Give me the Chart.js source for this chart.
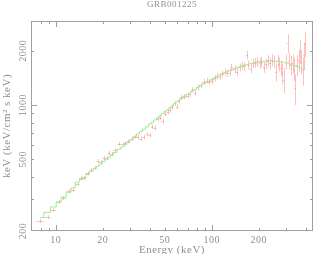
<!DOCTYPE html>
<html>
<head>
<meta charset="utf-8">
<script src="https://cdn.jsdelivr.net/npm/chart.js@4/dist/chart.umd.min.js"></script>
<style>
  html, body { margin: 0; padding: 0; background: #fff; }
  canvas { display: block; }
</style>
</head>
<body>
<canvas id="spec" width="314" height="254"></canvas>
<script>
// bin centres (keV)
const energy = [7.94, 8.89, 9.66, 10.5, 11.2, 12.2, 12.9, 13.8, 14.5, 15.2,
  16.1, 16.9, 17.9, 18.6, 19.4, 20.4, 21.2, 22.1, 22.8, 24.0,
  25.5, 26.9, 27.9, 29.2, 30.7, 32.2, 33.7, 35.2, 36.8, 38.5,
  40.3, 41.6, 43.3, 45.1, 46.6, 48.4, 50.4, 52.2, 54.0, 55.9,
  57.9, 59.9, 61.7, 63.8, 66.7, 69.9, 72.3, 75.1, 78.1, 81.2,
  84.7, 88.7, 92.8, 96.2, 100.6, 105.6, 108.6, 113, 116.6, 121.9,
  126, 130.6, 133.6, 139.9, 144.8, 150.8, 156, 162, 168.4, 171.7,
  177.8, 183, 189.5, 196, 204, 208, 216.5, 222, 229, 237,
  243, 251, 256, 264, 268, 276, 283, 291, 298, 306,
  313, 321, 329, 335, 342, 352, 360, 368, 375, 382,
  389, 397];

// measured nuFnu
const flux = [227, 239, 262, 290, 305, 334, 338, 365, 393, 392,
  417, 435, 448, 490, 483, 509, 509, 542, 536, 561,
  608, 608, 615, 629, 648, 668, 664, 650, 666, 688,
  680, 759, 746, 836, 851, 812, 895, 914, 934, 975,
  1026, 982, 1052, 1103, 1116, 1127, 1146, 1216, 1170, 1253,
  1285, 1352, 1369, 1347, 1360, 1411, 1447, 1440, 1491, 1530,
  1500, 1515, 1624, 1583, 1535, 1620, 1658, 1640, 1900, 1670,
  1590, 1708, 1720, 1745, 1708, 1745, 1624, 1690, 1765, 1708,
  1780, 1750, 1530, 1760, 1690, 1600, 1504, 1382, 1745, 2206,
  1765, 1670, 1708, 1590, 1242, 1670, 1780, 1990, 1745, 1560,
  1900, 2206];

const fluxErr = [6, 6, 7, 7, 8, 8, 8, 9, 10, 10,
  10, 11, 11, 12, 12, 13, 13, 14, 14, 14,
  15, 15, 16, 16, 17, 17, 17, 17, 18, 18,
  19, 21, 21, 23, 24, 24, 26, 27, 28, 29,
  31, 31, 33, 35, 36, 37, 38, 41, 40, 44,
  46, 50, 52, 52, 54, 58, 60, 62, 64, 68,
  68, 70, 76, 76, 78, 82, 86, 88, 100, 92,
  92, 100, 104, 108, 110, 114, 112, 118, 126, 126,
  134, 136, 180, 140, 150, 160, 200, 220, 170, 260,
  190, 200, 210, 230, 240, 220, 260, 300, 260, 280,
  320, 360];

// folded model
const model = [237, 254, 272, 290, 309, 328, 347, 373, 386, 397,
  417, 431, 446, 458, 471, 486, 500, 514, 526, 545,
  569, 587, 602, 621, 643, 668, 691, 713, 735, 758,
  786, 803, 827, 852, 873, 897, 922, 944, 968, 993,
  1020, 1043, 1064, 1089, 1117, 1146, 1169, 1196, 1222, 1247,
  1278, 1310, 1337, 1358, 1387, 1421, 1443, 1469, 1490, 1513,
  1534, 1554, 1567, 1591, 1610, 1631, 1648, 1665, 1680, 1687,
  1701, 1712, 1723, 1734, 1744, 1747, 1753, 1757, 1761, 1761,
  1761, 1759, 1757, 1755, 1751, 1742, 1735, 1728, 1718, 1708,
  1697, 1685, 1673, 1664, 1654, 1638, 1627, 1615, 1604, 1593,
  1581, 1568];

const xTickLabels = [10, 20, 50, 100, 200];
const yTickLabels = [200, 500, 1000, 2000];

const axisColor = '#a0a0a0';
const textColor = '#909090';
const font = '"Liberation Serif", serif';

const errorBars = {
  id: 'errorBars',
  beforeDatasetsDraw(chart) {
    const { ctx, chartArea: a, scales: { x, y } } = chart;
    ctx.save();
    ctx.beginPath();
    ctx.rect(a.left, a.top, a.right - a.left, a.bottom - a.top);
    ctx.clip();
    ctx.strokeStyle = 'rgba(255,130,130,0.5)';
    ctx.lineWidth = 1;
    const px = energy.map(e => x.getPixelForValue(e));
    for (let i = 0; i < energy.length; i++) {
      // bin edges halfway to neighbours
      const left = i > 0 ? (px[i] + px[i - 1]) / 2 : px[i] - (px[i + 1] - px[i]) / 2;
      const right = i < energy.length - 1 ? (px[i] + px[i + 1]) / 2 : px[i] + (px[i] - px[i - 1]) / 2;
      const cy = Math.round(y.getPixelForValue(flux[i])) + 0.5;
      const cx = Math.round(px[i]) + 0.5;
      ctx.beginPath();
      ctx.moveTo(left, cy);
      ctx.lineTo(right, cy);
      ctx.moveTo(cx, y.getPixelForValue(flux[i] - fluxErr[i]));
      ctx.lineTo(cx, y.getPixelForValue(flux[i] + fluxErr[i]));
      ctx.stroke();
    }
    ctx.restore();
  }
};

const frame = {
  id: 'frame',
  afterDraw(chart) {
    const { ctx, chartArea: a, scales: { x, y } } = chart;
    ctx.save();
    ctx.strokeStyle = axisColor;
    ctx.lineWidth = 1;
    ctx.strokeRect(a.left + 0.5, a.top + 0.5, a.right - a.left - 1, a.bottom - a.top - 1);

    ctx.beginPath();
    for (let d = 1; d <= 1000; d *= 10) {
      for (let k = 1; k <= 9; k++) {
        const v = k * d;
        if (v > x.min && v < x.max) {
          const p = Math.round(x.getPixelForValue(v)) + 0.5;
          const len = k === 1 ? 6 : 3;
          ctx.moveTo(p, a.bottom); ctx.lineTo(p, a.bottom - len);
          ctx.moveTo(p, a.top); ctx.lineTo(p, a.top + len);
        }
        if (v > y.min && v < y.max) {
          const p = Math.round(y.getPixelForValue(v)) + 0.5;
          const len = k === 1 ? 6 : 3;
          ctx.moveTo(a.left, p); ctx.lineTo(a.left + len, p);
          ctx.moveTo(a.right, p); ctx.lineTo(a.right - len, p);
        }
      }
    }
    ctx.stroke();

    ctx.fillStyle = textColor;
    ctx.letterSpacing = '0.5px';
    ctx.font = '10px ' + font;
    ctx.textAlign = 'center';
    ctx.textBaseline = 'middle';
    xTickLabels.forEach(v => {
      ctx.fillText(String(v), x.getPixelForValue(v), a.bottom + 9);
    });
    yTickLabels.forEach(v => {
      ctx.save();
      ctx.translate(a.left - 8, y.getPixelForValue(v));
      ctx.rotate(-Math.PI / 2);
      ctx.fillText(String(v), 0, 0);
      ctx.restore();
    });

    ctx.font = '11px ' + font;
    ctx.fillText('Energy (keV)', (a.left + a.right) / 2, a.bottom + 19);
    ctx.save();
    ctx.translate(7, (a.top + a.bottom) / 2);
    ctx.rotate(-Math.PI / 2);
    ctx.fillText('keV (keV/cm² s keV)', 0, 0);
    ctx.restore();

    ctx.font = '9px ' + font;
    ctx.fillText('GRB001225', (a.left + a.right) / 2, 5);
    ctx.restore();
  }
};

const ctx = document.getElementById('spec').getContext('2d');
new Chart(ctx, {
  type: 'scatter',
  data: {
    datasets: [
      {
        label: 'model',
        type: 'line',
        data: energy.map((e, i) => ({ x: e, y: model[i] })),
        stepped: 'middle',
        borderColor: 'rgb(150,238,150)',
        borderWidth: 1,
        pointRadius: 0,
        fill: false
      },
      {
        label: 'data',
        data: energy.map((e, i) => ({ x: e, y: flux[i] })),
        pointRadius: 0,
        showLine: false
      }
    ]
  },
  options: {
    responsive: false,
    animation: false,
    events: [],
    layout: { padding: { top: 21, right: 1, left: 0, bottom: 0 } },
    plugins: { legend: { display: false }, tooltip: { enabled: false } },
    scales: {
      x: {
        type: 'logarithmic', min: 6.95, max: 445,
        ticks: { display: false }, grid: { display: false }, border: { display: false },
        afterFit: s => { s.height = 23; }
      },
      y: {
        type: 'logarithmic', min: 200, max: 2930,
        ticks: { display: false }, grid: { display: false }, border: { display: false },
        afterFit: s => { s.width = 31; }
      }
    }
  },
  plugins: [errorBars, frame]
});
</script>
</body>
</html>
